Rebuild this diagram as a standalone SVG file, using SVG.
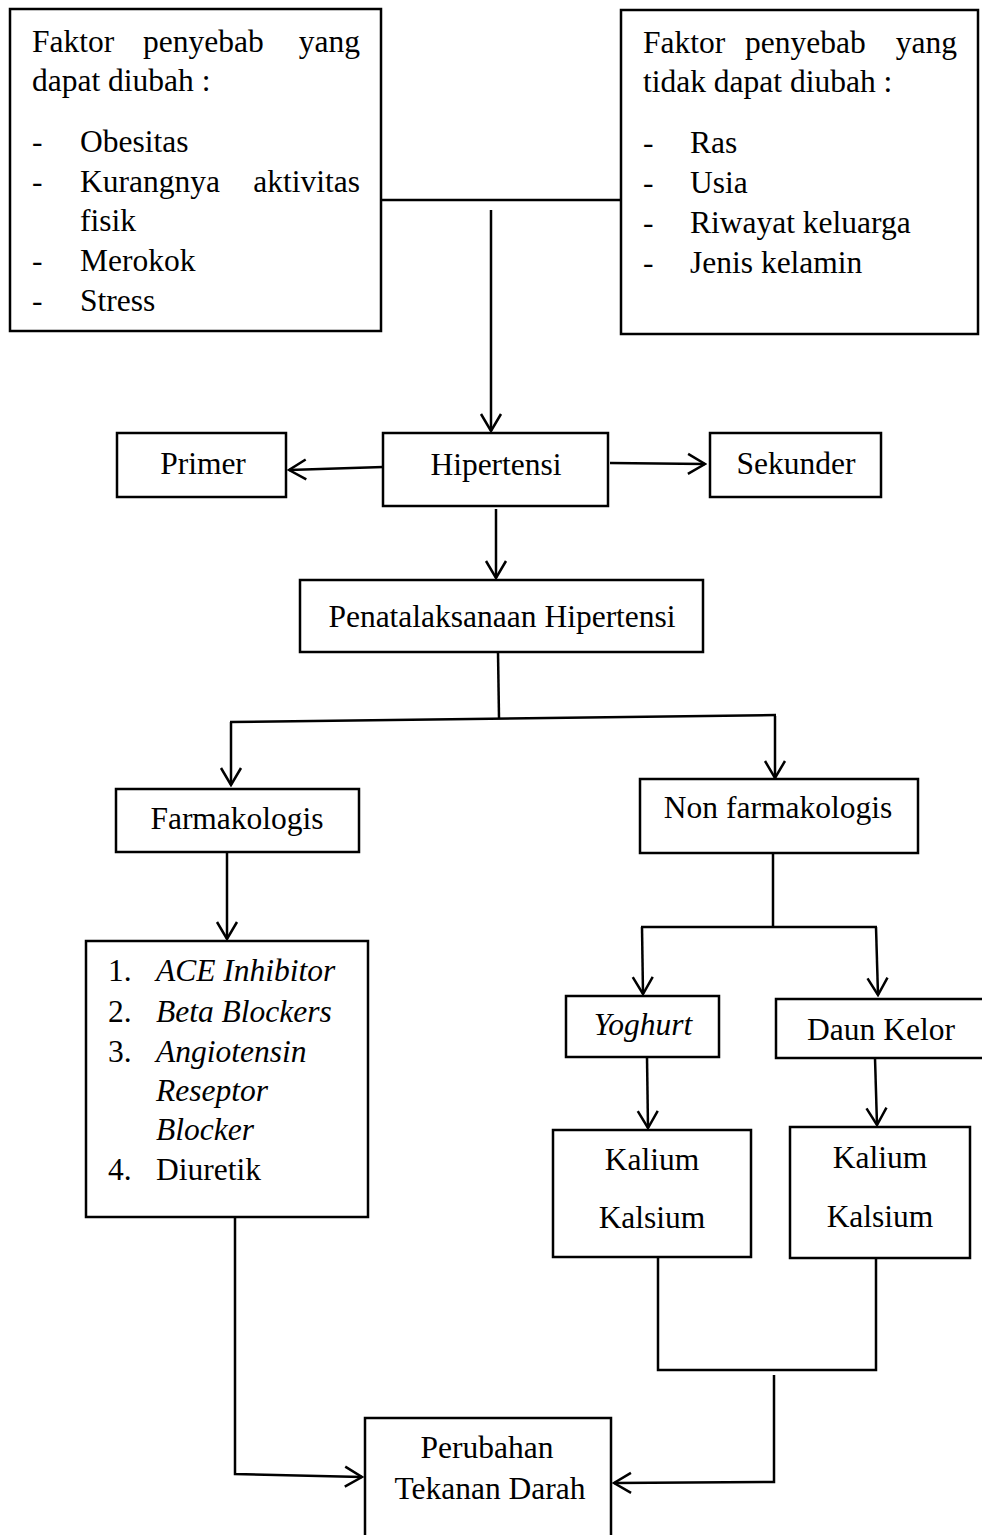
<svg xmlns="http://www.w3.org/2000/svg" width="982" height="1535" viewBox="0 0 982 1535">
<defs>
<marker id="arr" viewBox="-19 -12 21 24" refX="0" refY="0" markerWidth="21" markerHeight="24" markerUnits="userSpaceOnUse" orient="auto">
<path d="M-17,-10 L0,0 L-17,10" fill="none" stroke="#000" stroke-width="2.5"/>
</marker>
<style>
.box{fill:#fff;stroke:#000;stroke-width:2.5}
.t{font-family:"Liberation Serif","Times New Roman",serif;font-size:31.5px;fill:#000}
.c{text-anchor:middle}
.i{font-style:italic}
.ln{fill:none;stroke:#000;stroke-width:2.5}
.a{marker-end:url(#arr)}
</style>
</defs>
<rect width="982" height="1535" fill="#fff"/>
<g id="connectors">
<path class="ln" d="M381,200 L621,200"/>
<path class="ln a" d="M491,210 L491,431"/>
<path class="ln a" d="M383,467 L289,470"/>
<path class="ln a" d="M610,463 L705,464"/>
<path class="ln a" d="M496,509 L496,578"/>
<path class="ln" d="M498,652 L499,718"/>
<path class="ln" d="M230,722 L776,715"/>
<path class="ln a" d="M231,722 L231,785"/>
<path class="ln a" d="M775,716 L775,778"/>
<path class="ln a" d="M227,852 L227,939"/>
<path class="ln" d="M773,853 L773,928"/>
<path class="ln" d="M641,927 L877,927"/>
<path class="ln a" d="M642,927 L643,994"/>
<path class="ln a" d="M876,927 L878,995"/>
<path class="ln a" d="M647,1057 L648,1128"/>
<path class="ln a" d="M875,1058 L877,1125"/>
<path class="ln" d="M658,1257 L658,1370 L876,1370 L876,1258"/>
<path class="ln a" d="M774,1375 L774,1482 L614,1483"/>
<path class="ln a" d="M235,1217 L235,1474 L362,1477"/>
</g>
<g id="faktor-diubah">
<rect class="box" x="10" y="9" width="371" height="322"/>
<text class="t" x="32" y="52">Faktor</text>
<text class="t" x="143" y="52">penyebab</text>
<text class="t" x="360" y="52" text-anchor="end">yang</text>
<text class="t" x="32" y="91">dapat diubah :</text>
<text class="t" x="32" y="152">-</text><text class="t" x="80" y="152">Obesitas</text>
<text class="t" x="32" y="192">-</text><text class="t" x="80" y="192">Kurangnya</text>
<text class="t" x="360" y="192" text-anchor="end">aktivitas</text>
<text class="t" x="80" y="231">fisik</text>
<text class="t" x="32" y="271">-</text><text class="t" x="80" y="271">Merokok</text>
<text class="t" x="32" y="311">-</text><text class="t" x="80" y="311">Stress</text>
</g>
<g id="faktor-tidak-diubah">
<rect class="box" x="621" y="10" width="357" height="324"/>
<text class="t" x="643" y="53">Faktor</text>
<text class="t" x="745" y="53">penyebab</text>
<text class="t" x="957" y="53" text-anchor="end">yang</text>
<text class="t" x="643" y="92">tidak dapat diubah :</text>
<text class="t" x="643" y="153">-</text><text class="t" x="690" y="153">Ras</text>
<text class="t" x="643" y="193">-</text><text class="t" x="690" y="193">Usia</text>
<text class="t" x="643" y="233">-</text><text class="t" x="690" y="233">Riwayat keluarga</text>
<text class="t" x="643" y="273">-</text><text class="t" x="690" y="273">Jenis kelamin</text>
</g>
<g id="primer">
<rect class="box" x="117" y="433" width="169" height="64"/>
<text class="t c" x="203" y="474">Primer</text>
</g>
<g id="hipertensi">
<rect class="box" x="383" y="433" width="225" height="73"/>
<text class="t c" x="496" y="475">Hipertensi</text>
</g>
<g id="sekunder">
<rect class="box" x="710" y="433" width="171" height="64"/>
<text class="t c" x="796" y="474">Sekunder</text>
</g>
<g id="penatalaksanaan">
<rect class="box" x="300" y="580" width="403" height="72"/>
<text class="t c" x="502" y="627">Penatalaksanaan Hipertensi</text>
</g>
<g id="farmakologis">
<rect class="box" x="116" y="789" width="243" height="63"/>
<text class="t c" x="237" y="829">Farmakologis</text>
</g>
<g id="non-farmakologis">
<rect class="box" x="640" y="779" width="278" height="74"/>
<text class="t c" x="778" y="818">Non farmakologis</text>
</g>
<g id="obat">
<rect class="box" x="86" y="941" width="282" height="276"/>
<text class="t" x="108" y="981">1.</text><text class="t i" x="156" y="981">ACE Inhibitor</text>
<text class="t" x="108" y="1022">2.</text><text class="t i" x="156" y="1022">Beta Blockers</text>
<text class="t" x="108" y="1062">3.</text><text class="t i" x="156" y="1062">Angiotensin</text>
<text class="t i" x="156" y="1101">Reseptor</text>
<text class="t i" x="156" y="1140">Blocker</text>
<text class="t" x="108" y="1180">4.</text><text class="t" x="156" y="1180">Diuretik</text>
</g>
<g id="yoghurt">
<rect class="box" x="566" y="996" width="153" height="61"/>
<text class="t c i" x="643" y="1035">Yoghurt</text>
</g>
<g id="daun-kelor">
<rect class="box" x="776" y="999" width="220" height="59"/>
<text class="t c" x="881" y="1040">Daun Kelor</text>
</g>
<g id="kandungan-yoghurt">
<rect class="box" x="553" y="1130" width="198" height="127"/>
<text class="t c" x="652" y="1170">Kalium</text>
<text class="t c" x="652" y="1228">Kalsium</text>
</g>
<g id="kandungan-kelor">
<rect class="box" x="790" y="1127" width="180" height="131"/>
<text class="t c" x="880" y="1168">Kalium</text>
<text class="t c" x="880" y="1227">Kalsium</text>
</g>
<g id="perubahan">
<rect class="box" x="365" y="1418" width="246" height="130"/>
<text class="t c" x="487" y="1458">Perubahan</text>
<text class="t c" x="490" y="1499">Tekanan Darah</text>
</g>
</svg>
